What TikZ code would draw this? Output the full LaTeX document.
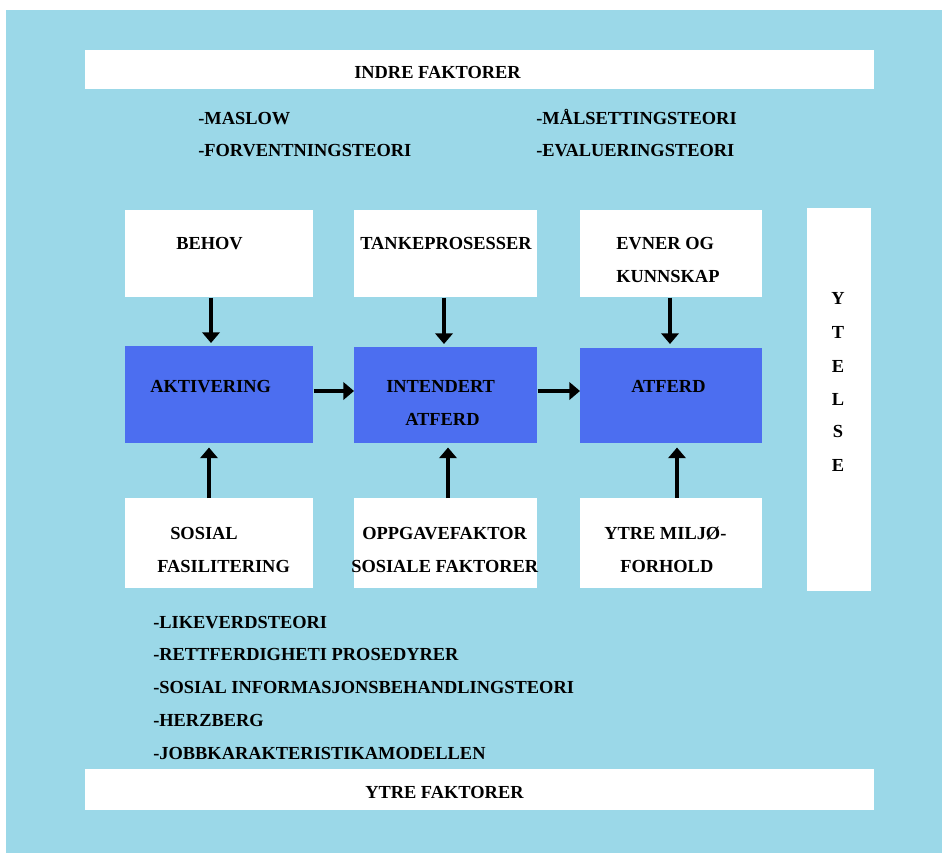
\documentclass[tikz,border=0pt]{standalone}
\usepackage{fontspec}
\setmainfont{Liberation Serif}
\usetikzlibrary{arrows.meta}
\definecolor{bgblue}{RGB}{155,216,232}
\definecolor{boxblue}{RGB}{76,110,240}
\begin{document}
\begin{tikzpicture}[x=0.75pt,y=-0.75pt,
  panel/.style={fill=white,draw=none,inner sep=0pt,anchor=north west},
  core/.style={fill=boxblue,draw=none,inner sep=0pt,anchor=north west},
  lbl/.style={inner sep=0pt,anchor=west,font=\bfseries\fontsize{13.8pt}{16pt}\selectfont,text height=9.1pt,text depth=0pt},
  vlbl/.style={lbl,anchor=center},
  arr/.style={line width=3.3pt,-{Triangle[width=13pt,length=8pt]}}]
  % canvas and background
  \useasboundingbox (0,0) rectangle (942,853);
  \fill[white] (0,0) rectangle (942,853);
  \fill[bgblue] (6,10) rectangle (942,853);

  % wide bands
  \node[panel,minimum width=591.75pt,minimum height=29.25pt] (indre) at (85,50) {};
  \node[panel,minimum width=591.75pt,minimum height=30.75pt] (ytre) at (85,769) {};
  \node[lbl] (tindre) at (354,72) {INDRE FAKTORER};
  \node[lbl] (tytre) at (365,792) {YTRE FAKTORER};

  % inner theories
  \node[lbl] (t1) at (198,118) {-MASLOW};
  \node[lbl] (t2) at (198,150) {-FORVENTNINGSTEORI};
  \node[lbl] (t3) at (536,118) {-MÅLSETTINGSTEORI};
  \node[lbl] (t4) at (536,150) {-EVALUERINGSTEORI};

  % top row
  \node[panel,minimum width=141pt,minimum height=65.25pt] (behov) at (125,210) {};
  \node[panel,minimum width=137.25pt,minimum height=65.25pt] (tanke) at (354,210) {};
  \node[panel,minimum width=136.5pt,minimum height=65.25pt] (evner) at (580,210) {};
  \node[lbl] (tbehov) at (176,243) {BEHOV};
  \node[lbl] (ttanke) at (360,243) {TANKEPROSESSER};
  \node[lbl] (tevner1) at (616,243) {EVNER OG};
  \node[lbl] (tevner2) at (616,276) {KUNNSKAP};

  % middle row
  \node[core,minimum width=141pt,minimum height=72.75pt] (akt) at (125,346) {};
  \node[core,minimum width=137.25pt,minimum height=72pt] (int) at (354,347) {};
  \node[core,minimum width=136.5pt,minimum height=71.25pt] (atf) at (580,348) {};
  \node[lbl] (takt) at (150,386) {AKTIVERING};
  \node[lbl] (tint1) at (386,386) {INTENDERT};
  \node[lbl] (tint2) at (405,419) {ATFERD};
  \node[lbl] (tatf) at (631,386) {ATFERD};

  % bottom row
  \node[panel,minimum width=141pt,minimum height=67.5pt] (sos) at (125,498) {};
  \node[panel,minimum width=137.25pt,minimum height=67.5pt] (opp) at (354,498) {};
  \node[panel,minimum width=136.5pt,minimum height=67.5pt] (mil) at (580,498) {};
  \node[lbl] (tsos1) at (170,533) {SOSIAL};
  \node[lbl] (tsos2) at (157,566) {FASILITERING};
  \node[lbl] (topp1) at (362,533) {OPPGAVEFAKTOR};
  \node[lbl] (topp2) at (351,566) {SOSIALE FAKTORER};
  \node[lbl] (tmil1) at (604,533) {YTRE MILJØ-};
  \node[lbl] (tmil2) at (620,566) {FORHOLD};

  % performance column
  \node[panel,minimum width=48pt,minimum height=287.25pt] (ytelse) at (807,208) {};
  \foreach \ch/\yy [count=\i] in {Y/298,T/332,E/366,L/399,S/431,E/465}
    \node[vlbl] (ytl\i) at (838,\yy) {\ch};

  % outer theories
  \node[lbl] (u1) at (153,622) {-LIKEVERDSTEORI};
  \node[lbl] (u2) at (153,654) {-RETTFERDIGHETI PROSEDYRER};
  \node[lbl] (u3) at (153,687) {-SOSIAL INFORMASJONSBEHANDLINGSTEORI};
  \node[lbl] (u4) at (153,720) {-HERZBERG};
  \node[lbl] (u5) at (153,753) {-JOBBKARAKTERISTIKAMODELLEN};

  % influences from above
  \draw[arr,shorten >=2.25pt] (behov.south -| 211,0) -- (akt.north -| 211,0);
  \draw[arr,shorten >=2.25pt] (tanke.south -| 444,0) -- (int.north -| 444,0);
  \draw[arr,shorten >=3pt] (evner.south -| 670,0) -- (atf.north -| 670,0);
  % influences from below
  \draw[arr,shorten >=3pt] (sos.north -| 209,0) -- (akt.south -| 209,0);
  \draw[arr,shorten >=3pt] (opp.north -| 448,0) -- (int.south -| 448,0);
  \draw[arr,shorten >=3pt] (mil.north -| 677,0) -- (atf.south -| 677,0);
  % main chain
  \draw[arr] (akt.east |- 0,391) -- (int.west |- 0,391);
  \draw[arr] (int.east |- 0,391) -- (atf.west |- 0,391);
\end{tikzpicture}
\end{document}
